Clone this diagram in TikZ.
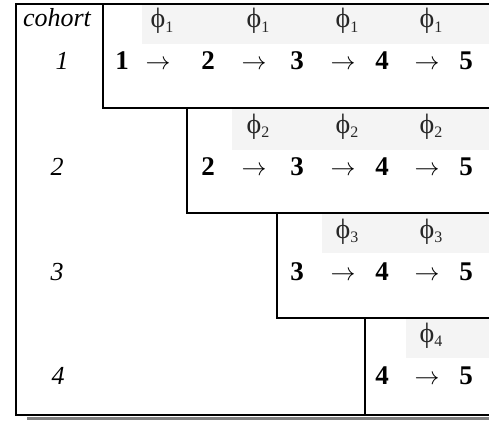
\documentclass[tikz,border=0pt]{standalone}
\usepackage{fontspec}
\setmainfont{Liberation Serif}
\definecolor{lightshade}{RGB}{244,244,244}
\definecolor{shadowgray}{RGB}{128,128,128}
\begin{document}
\begin{tikzpicture}[x=1pt,y=-1pt,
  num/.style={font=\fontsize{27}{30}\selectfont\bfseries, inner sep=0pt, anchor=base},
  arr/.style={font=\fontsize{24}{26}\selectfont, inner sep=0pt, anchor=base},
  phil/.style={font=\fontsize{28}{30}\selectfont, text=black!85, inner sep=0pt, anchor=base},
  coh/.style={font=\fontsize{26}{28}\selectfont\itshape, inner sep=0pt, anchor=base},
  frameline/.style={line width=2.4pt},
  shadowline/.style={shadowgray, line width=3pt}]
\useasboundingbox (0,0) rectangle (489,420);
% shaded label rows
\fill[lightshade] (142,5) rectangle (489,44);
\fill[lightshade] (232,109) rectangle (489,150);
\fill[lightshade] (322,214) rectangle (489,253);
\fill[lightshade] (406,319) rectangle (489,358);
% frame
\draw[shadowline] (27,418.5) -- (489,418.5);
\draw[frameline] (489,4) -- (16,4) -- (16,415) -- (489,415);
\draw[frameline] (103,4) -- (103,108) -- (489,108);
\draw[frameline] (187,108) -- (187,213) -- (489,213);
\draw[frameline] (277,213) -- (277,318) -- (489,318);
\draw[frameline] (365,318) -- (365,415);
% cohort column
\node[coh] (cohort) at (57,27) {cohort};
\node[coh] (c1) at (62,70) {1};
\node[coh] (c2) at (57,175) {2};
\node[coh] (c3) at (57,280) {3};
\node[coh] (c4) at (58,384) {4};
% rows
\foreach \r/\yb in {1/70,2/175,3/280,4/384} {
  \foreach \c/\x in {1/122,2/208,3/297,4/382,5/466} {
    \ifnum\c<\r\else
      \node[num] (n\r-\c) at (\x,\yb) {\c};
    \fi
  }
  \foreach \c/\x in {1/158,2/254,3/343,4/427} {
    \ifnum\c<\r\else
      \node[arr] (a\r-\c) at (\x,\yb) {$\rightarrow$};
      \node[phil] (p\r-\c) at (\x,\yb-42) {ϕ\rlap{\raisebox{-0.16em}{\fontsize{16}{16}\selectfont\r}}};
    \fi
  }
}
\end{tikzpicture}
\end{document}
